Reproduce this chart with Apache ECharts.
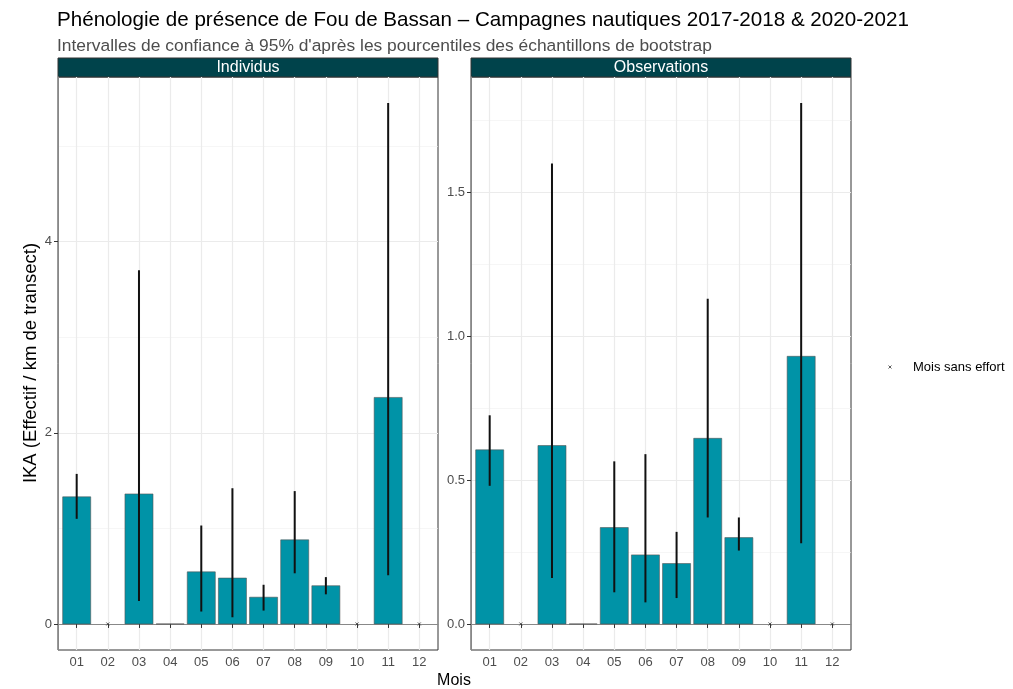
<!DOCTYPE html>
<html>
<head>
<meta charset="utf-8">
<script src="https://cdn.jsdelivr.net/npm/echarts@6/dist/echarts.min.js"></script>
<style>
html,body{margin:0;padding:0;background:#fff;}
#chart{width:1013px;height:689px;}
</style>
</head>
<body>
<div id="chart"></div>
<script>
// ---- Data ----
var months = ['01','02','03','04','05','06','07','08','09','10','11','12'];
var panels = ['Individus', 'Observations'];
// Individus panel (IKA, null = month without effort)
var indivValue = [1.33, null, 1.36, 0, 0.545, 0.48, 0.28, 0.88, 0.40, null, 2.37, null];
var indivLow   = [1.10, null, 0.24, null, 0.13, 0.07, 0.14, 0.53, 0.31, null, 0.51, null];
var indivHigh  = [1.57, null, 3.70, null, 1.03, 1.42, 0.41, 1.39, 0.49, null, 5.45, null];
// Observations panel
var obsValue = [0.605, null, 0.62, 0, 0.335, 0.24, 0.21, 0.645, 0.30, null, 0.93, null];
var obsLow   = [0.48, null, 0.16, null, 0.11, 0.075, 0.09, 0.37, 0.255, null, 0.28, null];
var obsHigh  = [0.725, null, 1.60, null, 0.565, 0.59, 0.32, 1.13, 0.37, null, 1.81, null];
// Months without effort
var noEffort = ['02', '10', '12'];
// Tick labels
var indivMajor = [0, 2, 4];
var indivMinor = [1, 3, 5];
var obsMajor = [0.0, 0.5, 1.0, 1.5];
var obsMinor = [0.25, 0.75, 1.25, 1.75];

var FONT = 'Liberation Sans, Arial, Helvetica, sans-serif';
var BAR = '#0093a7';
var STRIP = '#00434b';

function barData(vals){
  var out = [];
  vals.forEach(function(v,i){ if(v !== null) out.push([i+1, v]); });
  return out;
}
function errData(lo, hi){
  var out = [];
  lo.forEach(function(v,i){ if(v !== null && hi[i] !== null) out.push([i+1, v, hi[i]]); });
  return out;
}
function noEffortData(){
  return noEffort.map(function(m){ return [months.indexOf(m)+1, 0]; });
}
function maxOf(hi){ return Math.max.apply(null, hi.filter(function(v){return v!==null;})); }

var grids = [
  {left:58, top:77, width:380, height:573},
  {left:471, top:77, width:380, height:573}
];

var indivMax = maxOf(indivHigh);
var obsMax = maxOf(obsHigh);
var ranges = [
  [-0.05*indivMax, indivMax*1.05],
  [-0.05*obsMax, obsMax*1.05]
];
var majors = [indivMajor, obsMajor];
var minors = [indivMinor, obsMinor];
var xTicks = months.map(function(m,i){ return i+1; });

var option = {
  backgroundColor:'#ffffff',
  animation:false,
  textStyle:{fontFamily:FONT},
  title:[
    {text:'Phénologie de présence de Fou de Bassan – Campagnes nautiques 2017-2018 & 2020-2021',
     left:57, top:10, padding:0,
     textStyle:{fontFamily:FONT, fontSize:20.6, fontWeight:'normal', color:'#000'}},
    {text:"Intervalles de confiance à 95% d'après les pourcentiles des échantillons de bootstrap",
     left:57, top:38, padding:0,
     textStyle:{fontFamily:FONT, fontSize:17.4, fontWeight:'normal', color:'#4d4d4d'}}
  ],
  grid: grids.map(function(g){ return {left:g.left, top:g.top, width:g.width, height:g.height, show:true, borderColor:'#333', borderWidth:1, backgroundColor:'transparent'}; }),
  xAxis: [0,1].map(function(k){
    return {
      type:'value', gridIndex:k, min:0.4, max:12.6,
      axisLine:{show:true, lineStyle:{color:'#888', width:1}},
      axisTick:{show:true, customValues:xTicks, length:4, lineStyle:{color:'#333'}},
      axisLabel:{show:true, customValues:xTicks, color:'#4d4d4d', fontSize:13, fontFamily:FONT, margin:6,
        formatter:function(v){ return months[Math.round(v)-1] || ''; }},
      splitLine:{show:false}
    };
  }),
  yAxis: [0,1].map(function(k){
    return {
      type:'value', gridIndex:k, min:ranges[k][0], max:ranges[k][1],
      axisLine:{show:true, lineStyle:{color:'#888', width:1}},
      axisTick:{show:true, customValues:majors[k], length:4, lineStyle:{color:'#333'}},
      axisLabel:{show:true, customValues:majors[k], color:'#4d4d4d', fontSize:13, fontFamily:FONT, margin:6,
        formatter:function(v){ return k===0 ? String(Math.round(v)) : Number(v).toFixed(1); }},
      splitLine:{show:false}
    };
  }),
  graphic:[
    {type:'rect', shape:{x:58, y:58, width:380, height:19}, style:{fill:STRIP, stroke:'#333', lineWidth:1}},
    {type:'rect', shape:{x:471, y:58, width:380, height:19}, style:{fill:STRIP, stroke:'#333', lineWidth:1}},
    {type:'text', x:248, y:68, style:{text:panels[0], fill:'#fff', font:'16px '+FONT, textAlign:'center', textVerticalAlign:'middle'}},
    {type:'text', x:661, y:68, style:{text:panels[1], fill:'#fff', font:'16px '+FONT, textAlign:'center', textVerticalAlign:'middle'}},
    {type:'text', x:31, y:363, rotation:Math.PI/2, style:{text:'IKA (Effectif / km de transect)', fill:'#000', font:'18.5px '+FONT, textAlign:'center', textVerticalAlign:'middle'}},
    {type:'text', x:454, y:681, style:{text:'Mois', fill:'#000', font:'16px '+FONT, textAlign:'center', textVerticalAlign:'middle'}},
    {type:'group', x:890, y:367, children:[
      {type:'line', shape:{x1:-1.5, y1:-1.5, x2:1.5, y2:1.5}, style:{stroke:'#333', lineWidth:0.8}},
      {type:'line', shape:{x1:-1.5, y1:1.5, x2:1.5, y2:-1.5}, style:{stroke:'#333', lineWidth:0.8}}
    ]},
    {type:'text', x:913, y:367, style:{text:'Mois sans effort', fill:'#000', font:'13px '+FONT, textAlign:'left', textVerticalAlign:'middle'}}
  ],
  series:[]
};

function gridLineSeries(k){
  var data = [];
  minors[k].forEach(function(v){ data.push({yAxis:v, lineStyle:{color:'#f0f0f0', width:0.6}}); });
  majors[k].forEach(function(v){ data.push({yAxis:v, lineStyle:{color:'#ebebeb', width:1.2}}); });
  xTicks.forEach(function(v){ data.push({xAxis:v, lineStyle:{color:'#ebebeb', width:1.2}}); });
  return {
    type:'line', xAxisIndex:k, yAxisIndex:k, data:[], silent:true, z:0,
    markLine:{silent:true, symbol:['none','none'], label:{show:false}, animation:false, z:0,
      lineStyle:{type:'solid'}, data:data}
  };
}

function barSeries(k, vals){
  return {
    type:'custom', xAxisIndex:k, yAxisIndex:k, z:2, silent:true,
    data: barData(vals),
    renderItem:function(params, api){
      var x = api.value(0), v = api.value(1);
      var p1 = api.coord([x-0.45, v]);
      var p2 = api.coord([x+0.45, 0]);
      return {type:'rect', shape:{x:p1[0], y:p1[1], width:p2[0]-p1[0], height:p2[1]-p1[1]},
        style:{fill:BAR, stroke:'#555', lineWidth:0.6}};
    }
  };
}
function errSeries(k, lo, hi){
  return {
    type:'custom', xAxisIndex:k, yAxisIndex:k, z:3, silent:true,
    data: errData(lo, hi),
    renderItem:function(params, api){
      var x = api.value(0);
      var a = api.coord([x, api.value(1)]);
      var b = api.coord([x, api.value(2)]);
      return {type:'line', shape:{x1:a[0], y1:a[1], x2:b[0], y2:b[1]}, style:{stroke:'#111', lineWidth:2}};
    }
  };
}
function markerSeries(k){
  return {
    type:'custom', xAxisIndex:k, yAxisIndex:k, z:4, silent:true,
    data: noEffortData(),
    renderItem:function(params, api){
      var c = api.coord([api.value(0), api.value(1)]);
      return {type:'group', children:[
        {type:'line', shape:{x1:c[0]-1.5, y1:c[1]-1.5, x2:c[0]+1.5, y2:c[1]+1.5}, style:{stroke:'#333', lineWidth:0.8}},
        {type:'line', shape:{x1:c[0]-1.5, y1:c[1]+1.5, x2:c[0]+1.5, y2:c[1]-1.5}, style:{stroke:'#333', lineWidth:0.8}}
      ]};
    }
  };
}

option.series.push(gridLineSeries(0), gridLineSeries(1));
option.series.push(barSeries(0, indivValue), barSeries(1, obsValue));
option.series.push(errSeries(0, indivLow, indivHigh), errSeries(1, obsLow, obsHigh));
option.series.push(markerSeries(0), markerSeries(1));

var chart = echarts.init(document.getElementById('chart'), null, {renderer:'canvas'});
chart.setOption(option);
</script>
</body>
</html>
